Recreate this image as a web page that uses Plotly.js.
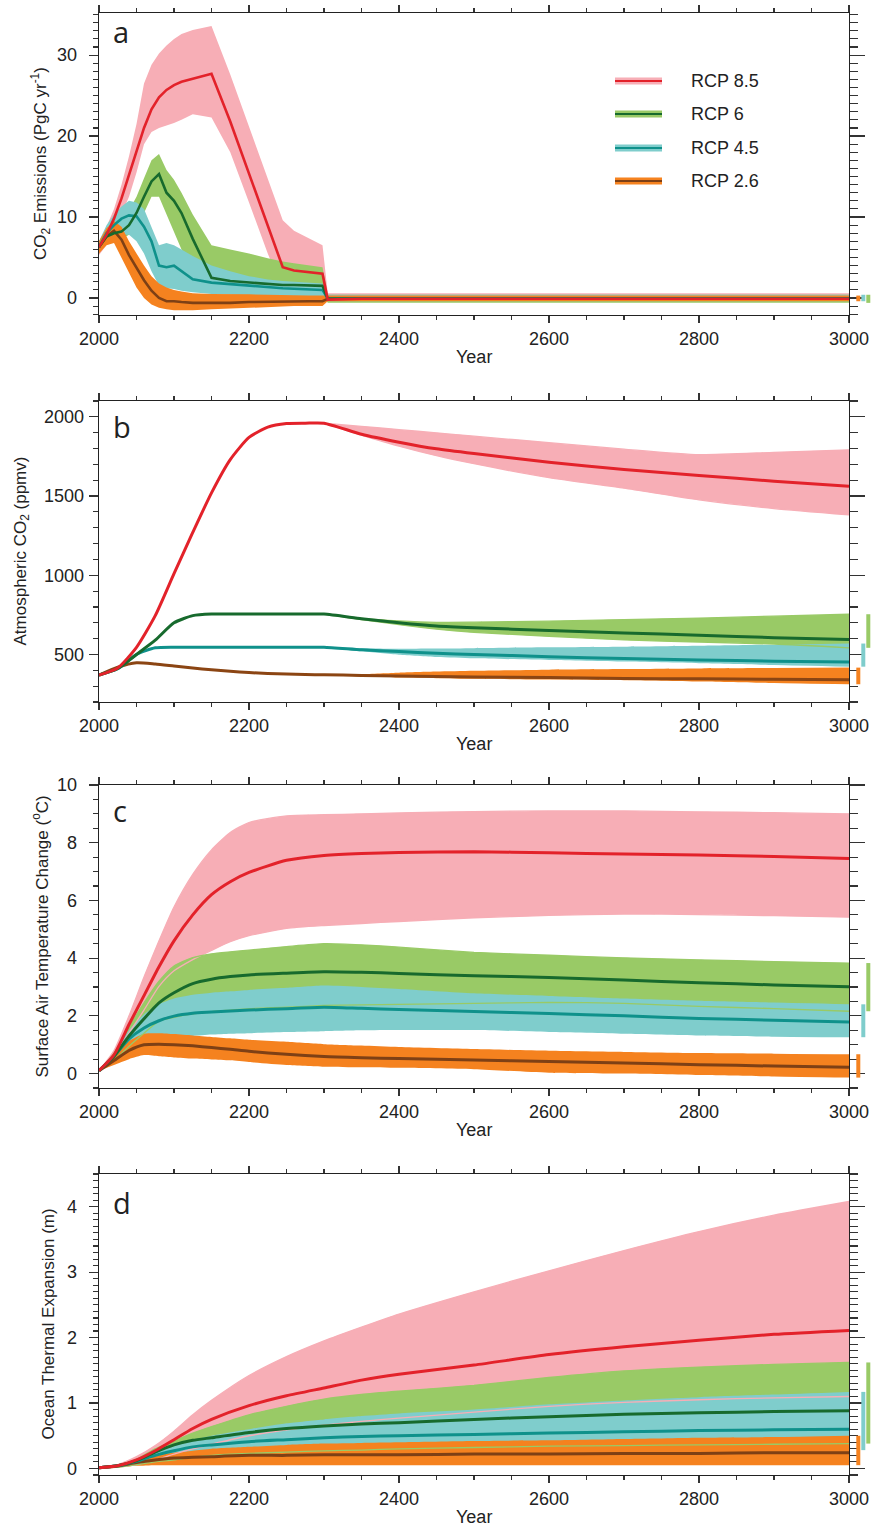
<!DOCTYPE html>
<html>
<head>
<meta charset="utf-8">
<script src="https://cdn.plot.ly/plotly-3.0.1.min.js"></script>
<style>html,body{margin:0;padding:0;background:#fff;}#chart{width:871px;height:1526px;}</style>
</head>
<body>
<div id="chart"></div>
<script>
// ---------------- DATA ----------------
const scenarios = ['RCP 8.5', 'RCP 6', 'RCP 4.5', 'RCP 2.6'];
const xTickVals = [2000, 2200, 2400, 2600, 2800, 3000];

// Panel a: CO2 emissions (PgC/yr)
const aYears = [2000,2010,2020,2030,2040,2050,2060,2070,2080,2090,2100,2110,2125,2150,2175,2200,2225,2245,2260,2280,2298,2305,2350,2500,2700,3000];
const a85Mid = [6.3,7.8,9.8,12.3,15.2,18.2,21.0,23.3,24.8,25.7,26.3,26.7,27.1,27.7,21.8,15.3,8.9,3.8,3.4,3.2,3.0,-0.2,-0.1,-0.1,-0.1,-0.1];
const a85Lo  = [5.3,6.5,8.2,10.3,12.5,15.5,19.0,20.5,21.0,21.3,21.6,22.0,22.7,22.3,18.0,11.8,5.5,1.0,0.5,0.3,0.2,-0.4,-0.4,-0.4,-0.4,-0.4];
const a85Hi  = [7.0,8.8,11.0,14.0,17.5,21.5,26.5,28.8,30.2,31.2,32.0,32.6,33.1,33.6,27.6,21.2,14.8,9.6,8.3,7.3,6.5,0.6,0.6,0.6,0.6,0.6];
const a60Mid = [6.3,7.6,8.0,8.2,9.0,10.5,12.5,14.4,15.3,13.0,12.0,10.5,7.3,2.5,2.1,1.9,1.7,1.6,1.6,1.5,1.5,-0.1,-0.1,-0.1,-0.1,-0.1];
const a60Lo  = [5.8,7.0,7.2,7.3,7.8,8.8,10.5,12.5,12.5,10.3,8.2,6.0,3.5,0.5,0.5,0.5,0.4,0.4,0.3,0.3,0.3,-0.6,-0.6,-0.6,-0.6,-0.6];
const a60Hi  = [6.8,8.3,9.0,9.5,10.8,12.5,14.8,17.0,17.8,15.8,14.6,13.0,10.3,6.5,6.0,5.5,4.9,4.5,4.3,4.0,3.8,0.4,0.4,0.4,0.4,0.4];
const a45Mid = [6.3,8.0,9.0,9.8,10.2,10.1,8.8,7.0,4.0,3.8,4.0,3.3,2.3,1.9,1.7,1.5,1.35,1.2,1.15,1.1,1.0,-0.1,-0.05,-0.05,-0.05,-0.05];
const a45Lo  = [5.5,7.0,7.5,7.8,7.8,7.0,5.5,3.3,1.5,1.2,1.1,0.9,0.7,0.5,0.4,0.3,0.3,0.2,0.2,0.2,0.2,-0.4,-0.4,-0.4,-0.4,-0.4];
const a45Hi  = [7.0,9.0,10.3,11.3,12.0,11.8,11.0,8.8,6.5,6.8,6.5,6.0,5.2,4.0,3.3,2.7,2.3,2.1,2.0,1.9,1.8,0.4,0.4,0.4,0.4,0.4];
const a26Mid = [6.3,7.6,8.3,7.2,5.3,3.7,2.2,0.9,0.0,-0.4,-0.4,-0.5,-0.6,-0.6,-0.6,-0.5,-0.45,-0.4,-0.4,-0.4,-0.4,-0.1,-0.1,-0.1,-0.1,-0.1];
const a26Lo  = [5.5,6.5,6.8,5.0,3.0,1.3,0.0,-0.8,-1.2,-1.4,-1.5,-1.5,-1.5,-1.4,-1.3,-1.2,-1.1,-1.1,-1.0,-1.0,-1.0,-0.4,-0.4,-0.4,-0.4,-0.4];
const a26Hi  = [7.0,8.6,9.5,8.8,7.0,5.5,4.0,2.7,1.8,1.3,1.0,0.8,0.6,0.5,0.5,0.45,0.4,0.4,0.35,0.3,0.3,0.3,0.3,0.3,0.3,0.3];

// Panel b: atmospheric CO2 (ppmv)
const bYears = [2000,2025,2050,2075,2100,2125,2150,2175,2200,2225,2250,2275,2300,2350,2400,2450,2500,2600,2700,2800,2900,3000];
const b85Mid = [370,415,545,745,1010,1270,1520,1730,1870,1935,1958,1960,1960,1890,1840,1798,1768,1714,1667,1630,1594,1562];
const b60Mid = [370,412,500,590,700,745,755,755,755,755,755,755,755,726,700,679,668,652,636,621,606,594];
const b45Mid = [370,410,500,542,546,546,546,546,546,546,546,546,546,530,518,508,500,486,474,465,458,452];
const b26Mid = [370,420,448,440,427,414,403,394,386,380,376,373,372,368,364,361,358,354,349,346,343,340];
const bBandYears = [2300,2350,2400,2450,2500,2600,2700,2800,2900,3000];
const b85Lo = [1960,1885,1815,1755,1704,1616,1550,1476,1421,1381];
const b85Hi = [1960,1940,1919,1899,1878,1837,1796,1761,1776,1792];
const b60Lo = [755,720,688,660,640,615,592,578,566,542];
const b60Hi = [755,728,712,703,704,710,720,730,742,754];
const b45Lo = [546,520,498,484,476,465,455,445,434,423];
const b45Hi = [546,540,536,537,540,545,549,555,562,569];
const b26Lo = [372,362,354,350,346,342,338,330,320,312];
const b26Hi = [372,376,385,392,397,404,408,412,415,417];

// Panel c: surface air temperature change (degC)
const cYears = [2000,2020,2040,2060,2080,2100,2125,2150,2175,2200,2250,2300,2350,2400,2500,2600,2700,2800,2900,3000];
const c85Mid = [0.1,0.65,1.7,2.7,3.7,4.6,5.5,6.2,6.65,6.97,7.39,7.56,7.63,7.66,7.69,7.65,7.61,7.57,7.52,7.45];
const c85Lo  = [0.1,0.6,1.4,2.2,3.02,3.56,3.95,4.27,4.57,4.78,5.03,5.13,5.2,5.27,5.4,5.48,5.53,5.51,5.47,5.42];
const c85Hi  = [0.1,0.8,2.0,3.35,4.6,5.77,6.9,7.75,8.35,8.7,8.93,8.97,9.0,9.03,9.08,9.1,9.1,9.07,9.04,9.0];
const c60Mid = [0.1,0.6,1.3,1.9,2.45,2.8,3.12,3.27,3.36,3.42,3.48,3.53,3.51,3.47,3.39,3.33,3.24,3.15,3.07,3.01];
const c60Lo  = [0.1,0.45,0.95,1.4,1.82,1.95,2.07,2.15,2.2,2.25,2.3,2.36,2.38,2.4,2.43,2.47,2.43,2.33,2.25,2.16];
const c60Hi  = [0.1,0.7,1.6,2.45,3.2,3.73,4.02,4.15,4.22,4.28,4.4,4.5,4.46,4.38,4.2,4.1,4.01,3.94,3.88,3.83];
const c45Mid = [0.1,0.6,1.2,1.58,1.83,1.99,2.09,2.13,2.17,2.2,2.25,2.3,2.26,2.22,2.15,2.08,2.0,1.91,1.85,1.79];
const c45Lo  = [0.1,0.5,0.85,1.05,1.15,1.22,1.3,1.35,1.38,1.4,1.44,1.47,1.5,1.51,1.51,1.44,1.38,1.32,1.28,1.26];
const c45Hi  = [0.1,0.7,1.5,2.05,2.4,2.6,2.73,2.8,2.85,2.9,2.97,3.05,3.0,2.93,2.78,2.69,2.6,2.52,2.46,2.4];
const c26Mid = [0.1,0.45,0.8,1.0,1.02,1.0,0.96,0.9,0.84,0.77,0.67,0.59,0.55,0.52,0.47,0.42,0.37,0.31,0.26,0.22];
const c26Lo  = [0.1,0.3,0.5,0.64,0.6,0.56,0.52,0.49,0.46,0.4,0.3,0.24,0.22,0.2,0.15,0.03,0.0,-0.05,-0.1,-0.14];
const c26Hi  = [0.1,0.6,1.12,1.38,1.4,1.37,1.32,1.27,1.22,1.17,1.1,1.02,0.97,0.92,0.85,0.79,0.75,0.71,0.69,0.67];

// Panel d: ocean thermal expansion (m)
const dYears = [2000,2025,2050,2075,2100,2125,2150,2200,2250,2300,2350,2400,2500,2600,2700,2800,2900,3000];
const d85Mid = [0.01,0.04,0.13,0.27,0.44,0.61,0.75,0.96,1.11,1.23,1.35,1.44,1.58,1.74,1.86,1.96,2.05,2.11];
const d85Lo  = [0.0,0.02,0.06,0.13,0.22,0.3,0.37,0.5,0.59,0.66,0.72,0.77,0.86,0.95,1.01,1.05,1.08,1.1];
const d85Hi  = [0.01,0.06,0.18,0.35,0.57,0.82,1.04,1.42,1.71,1.95,2.16,2.36,2.7,3.02,3.33,3.62,3.87,4.08];
const d60Mid = [0.01,0.04,0.12,0.25,0.36,0.43,0.47,0.55,0.61,0.65,0.68,0.7,0.75,0.79,0.83,0.85,0.87,0.88];
const d60Lo  = [0.0,0.02,0.06,0.1,0.13,0.17,0.2,0.23,0.25,0.27,0.28,0.3,0.32,0.34,0.35,0.36,0.37,0.38];
const d60Hi  = [0.01,0.05,0.14,0.3,0.42,0.54,0.64,0.82,0.95,1.06,1.13,1.18,1.27,1.39,1.49,1.55,1.59,1.62];
const d45Mid = [0.01,0.04,0.11,0.2,0.27,0.33,0.36,0.41,0.44,0.47,0.49,0.5,0.52,0.54,0.56,0.58,0.59,0.6];
const d45Lo  = [0.0,0.02,0.05,0.08,0.1,0.13,0.15,0.17,0.19,0.2,0.21,0.22,0.24,0.25,0.26,0.27,0.28,0.28];
const d45Hi  = [0.01,0.05,0.13,0.25,0.34,0.43,0.5,0.6,0.69,0.75,0.8,0.84,0.9,0.98,1.04,1.09,1.13,1.17];
const d26Mid = [0.01,0.04,0.09,0.13,0.16,0.17,0.18,0.2,0.2,0.21,0.21,0.21,0.22,0.22,0.23,0.23,0.24,0.24];
const d26Lo  = [0.0,0.02,0.04,0.05,0.05,0.05,0.05,0.05,0.05,0.05,0.05,0.05,0.05,0.05,0.05,0.05,0.05,0.05];
const d26Hi  = [0.01,0.05,0.12,0.2,0.24,0.27,0.3,0.33,0.36,0.38,0.39,0.4,0.42,0.43,0.45,0.47,0.48,0.5];

// ---------------- STYLE ----------------
const FONT = 'Liberation Sans, Arial, Helvetica, sans-serif';
const bandColors = ['#f7aeb6', '#99ca66', '#7fcdcc', '#f5821f'];
const lineColors = ['#e3222a', '#176a2d', '#0f918b', '#7e4015'];
const lineColorsB = ['#e3222a', '#176a2d', '#0f918b', '#8b4513'];

const W = 871, H = 1526, ML = 99, MR = 0, MT = 13, MB = 51;
const plotW = W - ML - MR, plotH = H - MT - MB;
const PX = px => (px - ML) / plotW;
const PY = py => (H - MB - py) / plotH;

const panels = [
  { years: aYears, bandYears: aYears,
    mid: [a85Mid, a60Mid, a45Mid, a26Mid], lo: [a85Lo, a60Lo, a45Lo, a26Lo], hi: [a85Hi, a60Hi, a45Hi, a26Hi],
    top: 13, bottom: 315, range: [-2.1, 35.2], dtick: 10, minor: 1, edges: false, lw: 2.6, colors: lineColors,
    shape: 'linear', standoff: 8,
    letter: 'a', letterY: 32, ytitle: 'CO<sub>2</sub> Emissions (PgC yr<sup>-1</sup>)', ytitleX: 40 },
  { years: bYears, bandYears: bBandYears,
    mid: [b85Mid, b60Mid, b45Mid, b26Mid], lo: [b85Lo, b60Lo, b45Lo, b26Lo], hi: [b85Hi, b60Hi, b45Hi, b26Hi],
    top: 401, bottom: 702, range: [200, 2100], dtick: 500, minor: 100, edges: true, lw: 3, colors: lineColorsB,
    shape: 'spline', standoff: 1,
    letter: 'b', letterY: 427, ytitle: 'Atmospheric CO<sub>2</sub> (ppmv)', ytitleX: 21 },
  { years: cYears, bandYears: cYears,
    mid: [c85Mid, c60Mid, c45Mid, c26Mid], lo: [c85Lo, c60Lo, c45Lo, c26Lo], hi: [c85Hi, c60Hi, c45Hi, c26Hi],
    top: 785, bottom: 1088, range: [-0.5, 10], dtick: 2, minor: 0.5, edges: true, lw: 3, colors: lineColors,
    shape: 'spline', standoff: 8,
    letter: 'c', letterY: 810, ytitle: 'Surface Air Temperature Change (<sup>o</sup>C)', ytitleX: 40 },
  { years: dYears, bandYears: dYears,
    mid: [d85Mid, d60Mid, d45Mid, d26Mid], lo: [d85Lo, d60Lo, d45Lo, d26Lo], hi: [d85Hi, d60Hi, d45Hi, d26Hi],
    top: 1174, bottom: 1475, range: [-0.1, 4.5], dtick: 1, minor: 0.1, edges: true, lw: 3, colors: lineColors,
    shape: 'spline', standoff: 8,
    letter: 'd', letterY: 1202, ytitle: 'Ocean Thermal Expansion (m)', ytitleX: 48 }
];

const traces = [];
const layout = {
  width: W, height: H,
  margin: { l: ML, r: MR, t: MT, b: MB, pad: 0 },
  paper_bgcolor: '#ffffff', plot_bgcolor: 'rgba(0,0,0,0)',
  showlegend: false,
  font: { family: FONT, size: 18, color: '#222' },
  annotations: [], shapes: []
};

panels.forEach((p, i) => {
  const n = i + 1;
  const xa = n === 1 ? 'x' : 'x' + n;
  const ya = n === 1 ? 'y' : 'y' + n;
  const xr = 'x' + (n + 4);
  const yr = 'y' + (n + 4);
  const lineShape = { shape: p.shape, smoothing: 0.6 };
  // bands: lower edge, then upper edge filled down to it
  for (let s = 0; s < 4; s++) {
    traces.push({
      type: 'scatter', mode: 'lines', xaxis: xa, yaxis: ya,
      x: p.bandYears, y: p.lo[s],
      line: Object.assign({ width: 0, color: bandColors[s] }, lineShape), hoverinfo: 'skip'
    });
    traces.push({
      type: 'scatter', mode: 'lines', xaxis: xa, yaxis: ya,
      x: p.bandYears, y: p.hi[s],
      fill: 'tonexty', fillcolor: bandColors[s],
      line: Object.assign({ width: 0, color: bandColors[s] }, lineShape), hoverinfo: 'skip'
    });
  }
  // thin band edges (visible where bands overlap)
  if (p.edges) {
    for (let s = 0; s < 2; s++) {
      [p.lo[s], p.hi[s]].forEach(arr => traces.push({
        type: 'scatter', mode: 'lines', xaxis: xa, yaxis: ya,
        x: p.bandYears, y: arr,
        line: Object.assign({ color: bandColors[s], width: 1.3 }, lineShape), hoverinfo: 'skip'
      }));
    }
  }
  // median lines (RCP2.6 first so RCP8.5 is on top)
  for (let s = 3; s >= 0; s--) {
    traces.push({
      type: 'scatter', mode: 'lines', xaxis: xa, yaxis: ya, name: scenarios[s],
      x: p.years, y: p.mid[s],
      line: Object.assign({ color: p.colors[s], width: p.lw }, lineShape)
    });
  }
  // year-3000 range bars at right edge
  const order = [3, 2, 1, 0];
  const last = a => a[a.length - 1];
  traces.push({
    type: 'bar', xaxis: xr, yaxis: ya,
    x: [0, 1, 2, 3],
    base: order.map(s => last(p.lo[s])),
    y: order.map(s => last(p.hi[s]) - last(p.lo[s])),
    width: 0.8,
    marker: { color: order.map(s => bandColors[s]), line: { width: 0 } },
    hoverinfo: 'skip'
  });
  // invisible trace so the right-hand tick axis is drawn
  traces.push({
    type: 'scatter', mode: 'lines', xaxis: xa, yaxis: yr,
    x: [p.years[0]], y: [p.range[0]], line: { width: 0 }, hoverinfo: 'skip', showlegend: false
  });

  const axStyle = {
    showline: true, linecolor: '#222', linewidth: 1.3,
    ticks: 'outside', tickcolor: '#333', tickwidth: 1.2,
    showgrid: false, zeroline: false,
    tickfont: { family: FONT, size: 18, color: '#222' }
  };
  layout['xaxis' + (n === 1 ? '' : n)] = Object.assign({}, axStyle, {
    domain: [0, PX(849)], anchor: ya, range: [2000, 3000], mirror: 'ticks',
    tickmode: 'array', tickvals: xTickVals, ticklen: 7,
    minor: { dtick: 50, tick0: 2000, ticks: 'outside', ticklen: 4, tickcolor: '#333', tickwidth: 1.1 }
  });
  layout['yaxis' + (n === 1 ? '' : n)] = Object.assign({}, axStyle, {
    domain: [PY(p.bottom), PY(p.top)], anchor: xa, range: p.range, mirror: true,
    tick0: 0, dtick: p.dtick, ticklen: 9, ticklabelstandoff: p.standoff,
    minor: { dtick: p.minor, tick0: 0, ticks: 'outside', ticklen: 5, tickcolor: '#333', tickwidth: 1.1 }
  });
  // right-hand ticks (longer than the left ones, as in the original)
  layout['yaxis' + (n + 4)] = {
    overlaying: ya, side: 'right', anchor: xa, range: p.range,
    showline: false, showgrid: false, zeroline: false, showticklabels: false,
    ticks: 'outside', tick0: 0, dtick: p.dtick, ticklen: 15, tickcolor: '#333', tickwidth: 1.2,
    minor: { dtick: p.minor, tick0: 0, ticks: 'outside', ticklen: 8, tickcolor: '#333', tickwidth: 1.1 }
  };
  layout['xaxis' + (n + 4)] = {
    domain: [PX(855), 1], anchor: ya, range: [-0.66, 2.54], visible: false, fixedrange: true
  };

  // axis titles and panel letter
  layout.annotations.push({
    xref: 'paper', yref: 'paper', x: PX(474), y: PY(p.bottom + 42),
    xanchor: 'center', yanchor: 'middle', showarrow: false, text: 'Year',
    font: { family: FONT, size: 18, color: '#222' }
  });
  layout.annotations.push({
    xref: 'paper', yref: 'paper', x: PX(p.ytitleX), y: PY((p.top + p.bottom) / 2),
    xanchor: 'center', yanchor: 'middle', showarrow: false, textangle: -90, text: p.ytitle,
    font: { family: FONT, size: 17, color: '#222' }
  });
  layout.annotations.push({
    xref: 'paper', yref: 'paper', x: PX(111), y: PY(p.letterY),
    xanchor: 'left', yanchor: 'middle', showarrow: false, text: p.letter,
    font: { family: 'Open Sans, sans-serif', size: 29, color: '#222' }
  });
});

// legend (panel a)
const legendY = [81, 114, 148, 181];
scenarios.forEach((name, s) => {
  layout.shapes.push({ type: 'line', xref: 'paper', yref: 'paper', x0: PX(615), x1: PX(662), y0: PY(legendY[s]), y1: PY(legendY[s]),
    line: { color: bandColors[s], width: 7 } });
  layout.shapes.push({ type: 'line', xref: 'paper', yref: 'paper', x0: PX(615), x1: PX(662), y0: PY(legendY[s]), y1: PY(legendY[s]),
    line: { color: lineColors[s], width: 2 } });
  layout.annotations.push({
    xref: 'paper', yref: 'paper', x: PX(689), y: PY(legendY[s]), xanchor: 'left', yanchor: 'middle',
    showarrow: false, text: name, font: { family: FONT, size: 18, color: '#222' }
  });
});

Plotly.newPlot('chart', traces, layout, { staticPlot: true, displayModeBar: false });
</script>
</body>
</html>
